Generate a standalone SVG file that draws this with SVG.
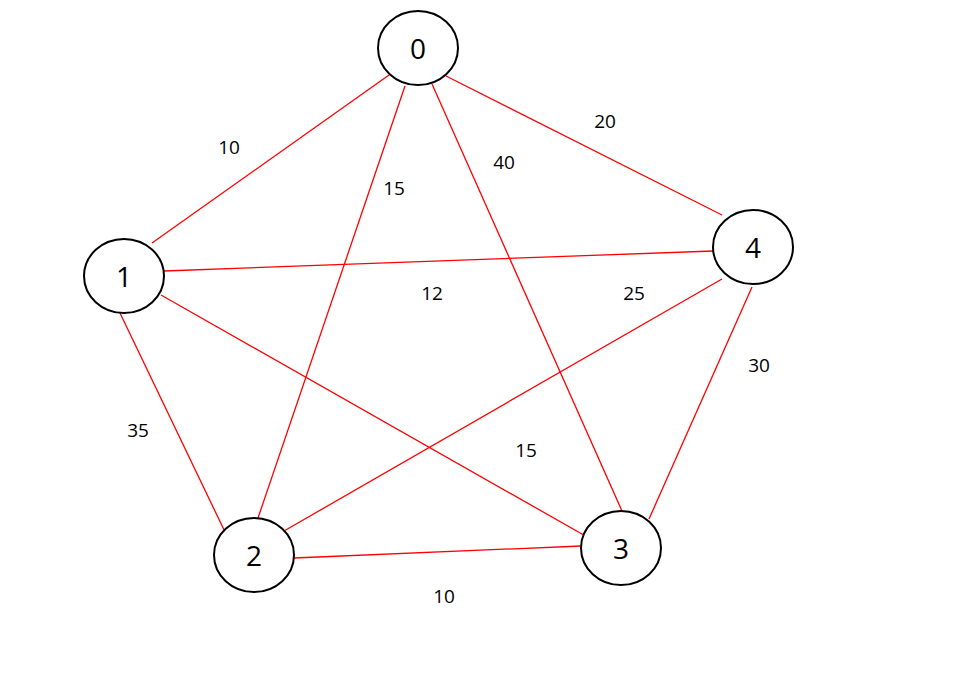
<svg xmlns="http://www.w3.org/2000/svg" width="959" height="678" viewBox="0 0 959 678">
<style>
.e{stroke:#ff0000;stroke-width:1.3;fill:none}
.n{fill:#fff;stroke:#000;stroke-width:2}
.nt{font-family:"Open Sans","Liberation Sans",sans-serif;font-size:28px;text-anchor:middle;dominant-baseline:central}
.w{font-family:"Open Sans","Liberation Sans",sans-serif;font-size:19px;text-anchor:middle;dominant-baseline:central}
</style>
<rect width="959" height="678" fill="#fff"/>
<g id="connectors">
<line class="e" x1="389" y1="75" x2="152" y2="243"/>
<line class="e" x1="405" y1="86" x2="258" y2="518"/>
<line class="e" x1="432" y1="84" x2="622" y2="511"/>
<line class="e" x1="446" y1="76" x2="722" y2="215"/>
<line class="e" x1="164" y1="271" x2="713" y2="251"/>
<line class="e" x1="161" y1="295" x2="589" y2="538"/>
<line class="e" x1="120" y1="313" x2="226" y2="534"/>
<line class="e" x1="722" y1="279" x2="284" y2="531"/>
<line class="e" x1="752" y1="287" x2="649" y2="519"/>
<line class="e" x1="294" y1="558" x2="581" y2="546"/>
<text class="w" x="229" y="147">10</text>
<text class="w" x="394" y="188">15</text>
<text class="w" x="504" y="162">40</text>
<text class="w" x="605" y="121">20</text>
<text class="w" x="432" y="293">12</text>
<text class="w" x="634" y="293">25</text>
<text class="w" x="759" y="365">30</text>
<text class="w" x="138" y="430">35</text>
<text class="w" x="526" y="450">15</text>
<text class="w" x="444" y="596">10</text>
</g>
<g id="node0"><ellipse class="n" cx="418" cy="48" rx="40" ry="37"/><text class="nt" x="418" y="48">0</text></g>
<g id="node1"><ellipse class="n" cx="124" cy="276" rx="40" ry="37"/><text class="nt" x="124" y="276">1</text></g>
<g id="node2"><ellipse class="n" cx="254" cy="555" rx="40" ry="37"/><text class="nt" x="254" y="555">2</text></g>
<g id="node3"><ellipse class="n" cx="621" cy="548" rx="40" ry="37"/><text class="nt" x="621" y="548">3</text></g>
<g id="node4"><ellipse class="n" cx="753" cy="247" rx="40" ry="37"/><text class="nt" x="753" y="247">4</text></g>
</svg>
